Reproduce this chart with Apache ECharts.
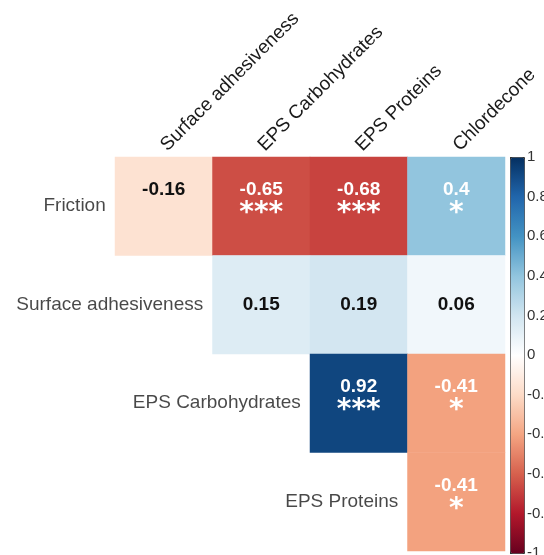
<!DOCTYPE html>
<html>
<head>
<meta charset="utf-8">
<script src="https://cdn.jsdelivr.net/npm/echarts@6/dist/echarts.min.js"></script>
<style>html,body{margin:0;padding:0;background:#fff}#c{width:544px;height:555px}</style>
</head>
<body>
<div id="c"></div>
<script>
const columns = ['Surface adhesiveness', 'EPS Carbohydrates', 'EPS Proteins', 'Chlordecone'];
const rows = ['Friction', 'Surface adhesiveness', 'EPS Carbohydrates', 'EPS Proteins'];
const friction = [-0.16, -0.65, -0.68, 0.4];
const surfaceAdhesiveness = [null, 0.15, 0.19, 0.06];
const epsCarbohydrates = [null, null, 0.92, -0.41];
const epsProteins = [null, null, null, -0.41];
const frictionStars = [' ', '***', '***', '*'];
const surfaceStars = [null, '', '', ''];
const carbStars = [null, null, '***', '*'];
const protStars = [null, null, null, '*'];
const colorbarTicks = [1, 0.8, 0.6, 0.4, 0.2, 0, -0.2, -0.4, -0.6, -0.8, -1];
const rdBu = ['#67001F', '#B2182B', '#D6604D', '#F4A582', '#FDDBC7', '#FFFFFF', '#D1E5F0', '#92C5DE', '#4393C3', '#2166AC', '#053061'];

const valueRows = [friction, surfaceAdhesiveness, epsCarbohydrates, epsProteins];
const starRows = [frictionStars, surfaceStars, carbStars, protStars];
const cells = [];
valueRows.forEach((r, ri) => r.forEach((v, ci) => {
  if (v !== null) cells.push({ value: [ci, ri, v], stars: starRows[ri][ci] });
}));
const rowLabelPts = rows.map((name, i) => ({ value: [i, i], name }));

const font = 'Liberation Sans, Arial, Helvetica, sans-serif';
const starFont = 'DejaVu Sans, sans-serif';
const chart = echarts.init(document.getElementById('c'));
chart.setOption({
  backgroundColor: '#fff',
  animation: false,
  grid: [
    { left: 115, top: 157, width: 390, height: 394, outerBoundsMode: 'none', containLabel: false },
    { left: 510, top: 157, width: 14, height: 396, outerBoundsMode: 'none', containLabel: false }
  ],
  xAxis: [
    { type: 'category', data: columns, position: 'top', gridIndex: 0,
      axisLine: { show: false }, axisTick: { show: false }, splitLine: { show: false },
      axisLabel: { rotate: -45, margin: 9, fontSize: 19, color: '#1a1a1a', fontFamily: font, interval: 0 } },
    { type: 'value', gridIndex: 1, show: false, min: 0, max: 1 }
  ],
  yAxis: [
    { type: 'category', data: rows, inverse: true, gridIndex: 0,
      axisLine: { show: false }, axisTick: { show: false }, axisLabel: { show: false } },
    { type: 'value', gridIndex: 1, min: -1, max: 1, interval: 0.2, position: 'right',
      axisLine: { show: false }, splitLine: { show: false },
      axisTick: { show: true, length: 5, lineStyle: { color: '#333' } },
      axisLabel: { margin: 3, fontSize: 15, color: '#333', fontFamily: font,
        formatter: v => String(+v.toFixed(1)) } }
  ],
  visualMap: {
    type: 'continuous', min: -1, max: 1, seriesIndex: 0, calculable: false,
    orient: 'vertical', left: 510, top: 157, itemWidth: 14, itemHeight: 396,
    padding: 0, borderWidth: 1, borderColor: '#333', text: ['', ''], textGap: 0,
    inRange: { color: rdBu }, hoverLink: false
  },
  series: [
    {
      type: 'heatmap', xAxisIndex: 0, yAxisIndex: 0, data: cells,
      itemStyle: { borderWidth: 0 },
      label: {
        show: true,
        formatter: p => {
          const v = p.value[2];
          const s = p.data.stars;
          const key = Math.abs(v) >= 0.3 ? 'w' : 'b';
          let t = '{' + key + '|' + String(v) + '}';
          if (s) t += '\n{' + (key === 'w' ? 'sw' : 'sb') + '|' + s + '}';
          return t;
        },
        rich: {
          w: { color: '#fff', fontSize: 19, fontWeight: 'bold', fontFamily: font, lineHeight: 22 },
          b: { color: '#111', fontSize: 19, fontWeight: 'bold', fontFamily: font, lineHeight: 22 },
          sw: { color: '#fff', fontSize: 28, fontWeight: 'bold', fontFamily: starFont, lineHeight: 32, padding: [0, 0, 7, 0] },
          sb: { color: '#111', fontSize: 28, fontWeight: 'bold', fontFamily: starFont, lineHeight: 32, padding: [0, 0, 7, 0] }
        }
      },
      emphasis: { disabled: true }
    },
    {
      type: 'scatter', xAxisIndex: 0, yAxisIndex: 0, data: rowLabelPts, symbolSize: 0,
      label: { show: true, position: 'left', distance: 58, formatter: p => p.name,
        fontSize: 19, color: '#1a1a1a', fontFamily: font },
      silent: true
    }
  ]
});
</script>
</body>
</html>
